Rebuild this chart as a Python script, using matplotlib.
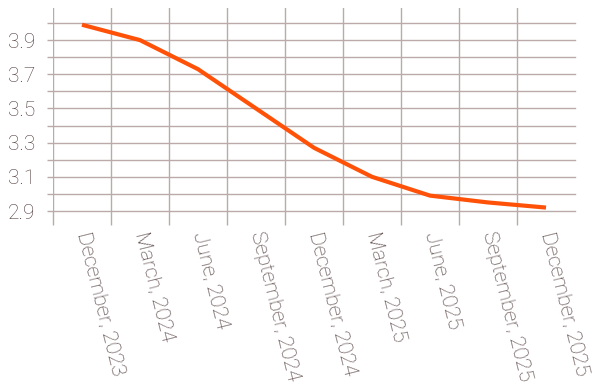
import numpy as np
import matplotlib
matplotlib.use("Agg")
import matplotlib.pyplot as plt

# Quarterly values
quarters = ["December, 2023", "March, 2024", "June, 2024", "September, 2024",
            "December, 2024", "March, 2025", "June, 2025", "September, 2025",
            "December, 2025"]
values = [3.99, 3.90, 3.73, 3.50, 3.27, 3.10, 2.99, 2.95, 2.92]

grid_levels = np.round(np.arange(2.9, 4.01, 0.1), 1)
label_levels = [2.9, 3.1, 3.3, 3.5, 3.7, 3.9]

text_col = "#4f3a3a"
grid_col = "#bcaaab"
line_col = "#ff5208"

plt.rcParams["font.family"] = ["Roboto", "DejaVu Sans"]
plt.rcParams["font.weight"] = "light"

fig = plt.figure(figsize=(5.94, 3.87), dpi=100)
ax = fig.add_axes([53 / 594, 1 - 211 / 387, (575 - 53) / 594, (211 - 8) / 387])

x = np.arange(len(quarters))
ax.plot(x, values, color=line_col, linewidth=3, solid_capstyle="butt", zorder=3)

ax.set_xlim(-0.5, len(quarters) - 0.5)
ax.set_ylim(2.9, 4.088)

# band edges carry the vertical grid lines, centers carry the labels
edges = np.arange(len(quarters)) - 0.5
ax.set_xticks(edges)
ax.set_xticklabels([])
ax.set_xticks(x, minor=True)
ax.set_xticklabels(quarters, minor=True, rotation=-76, ha="left", va="center",
                   rotation_mode="anchor", fontsize=15, color=text_col)
ax.tick_params(axis="x", which="major", length=10, color=grid_col, width=1)
ax.tick_params(axis="x", which="minor", length=0, pad=15)
for e in edges:
    ax.axvline(e, color=grid_col, linewidth=1, zorder=1)

ax.set_yticks(grid_levels)
ax.set_yticklabels([f"{v:.1f}" if v in label_levels else "" for v in grid_levels],
                   fontsize=15, color=text_col)
ax.tick_params(axis="y", length=4, color=grid_col, width=1, pad=9)
for g in grid_levels:
    ax.axhline(g, color=grid_col, linewidth=1, zorder=1, clip_on=False)

for s in ax.spines.values():
    s.set_visible(False)

fig.savefig("out.png", dpi=100)
